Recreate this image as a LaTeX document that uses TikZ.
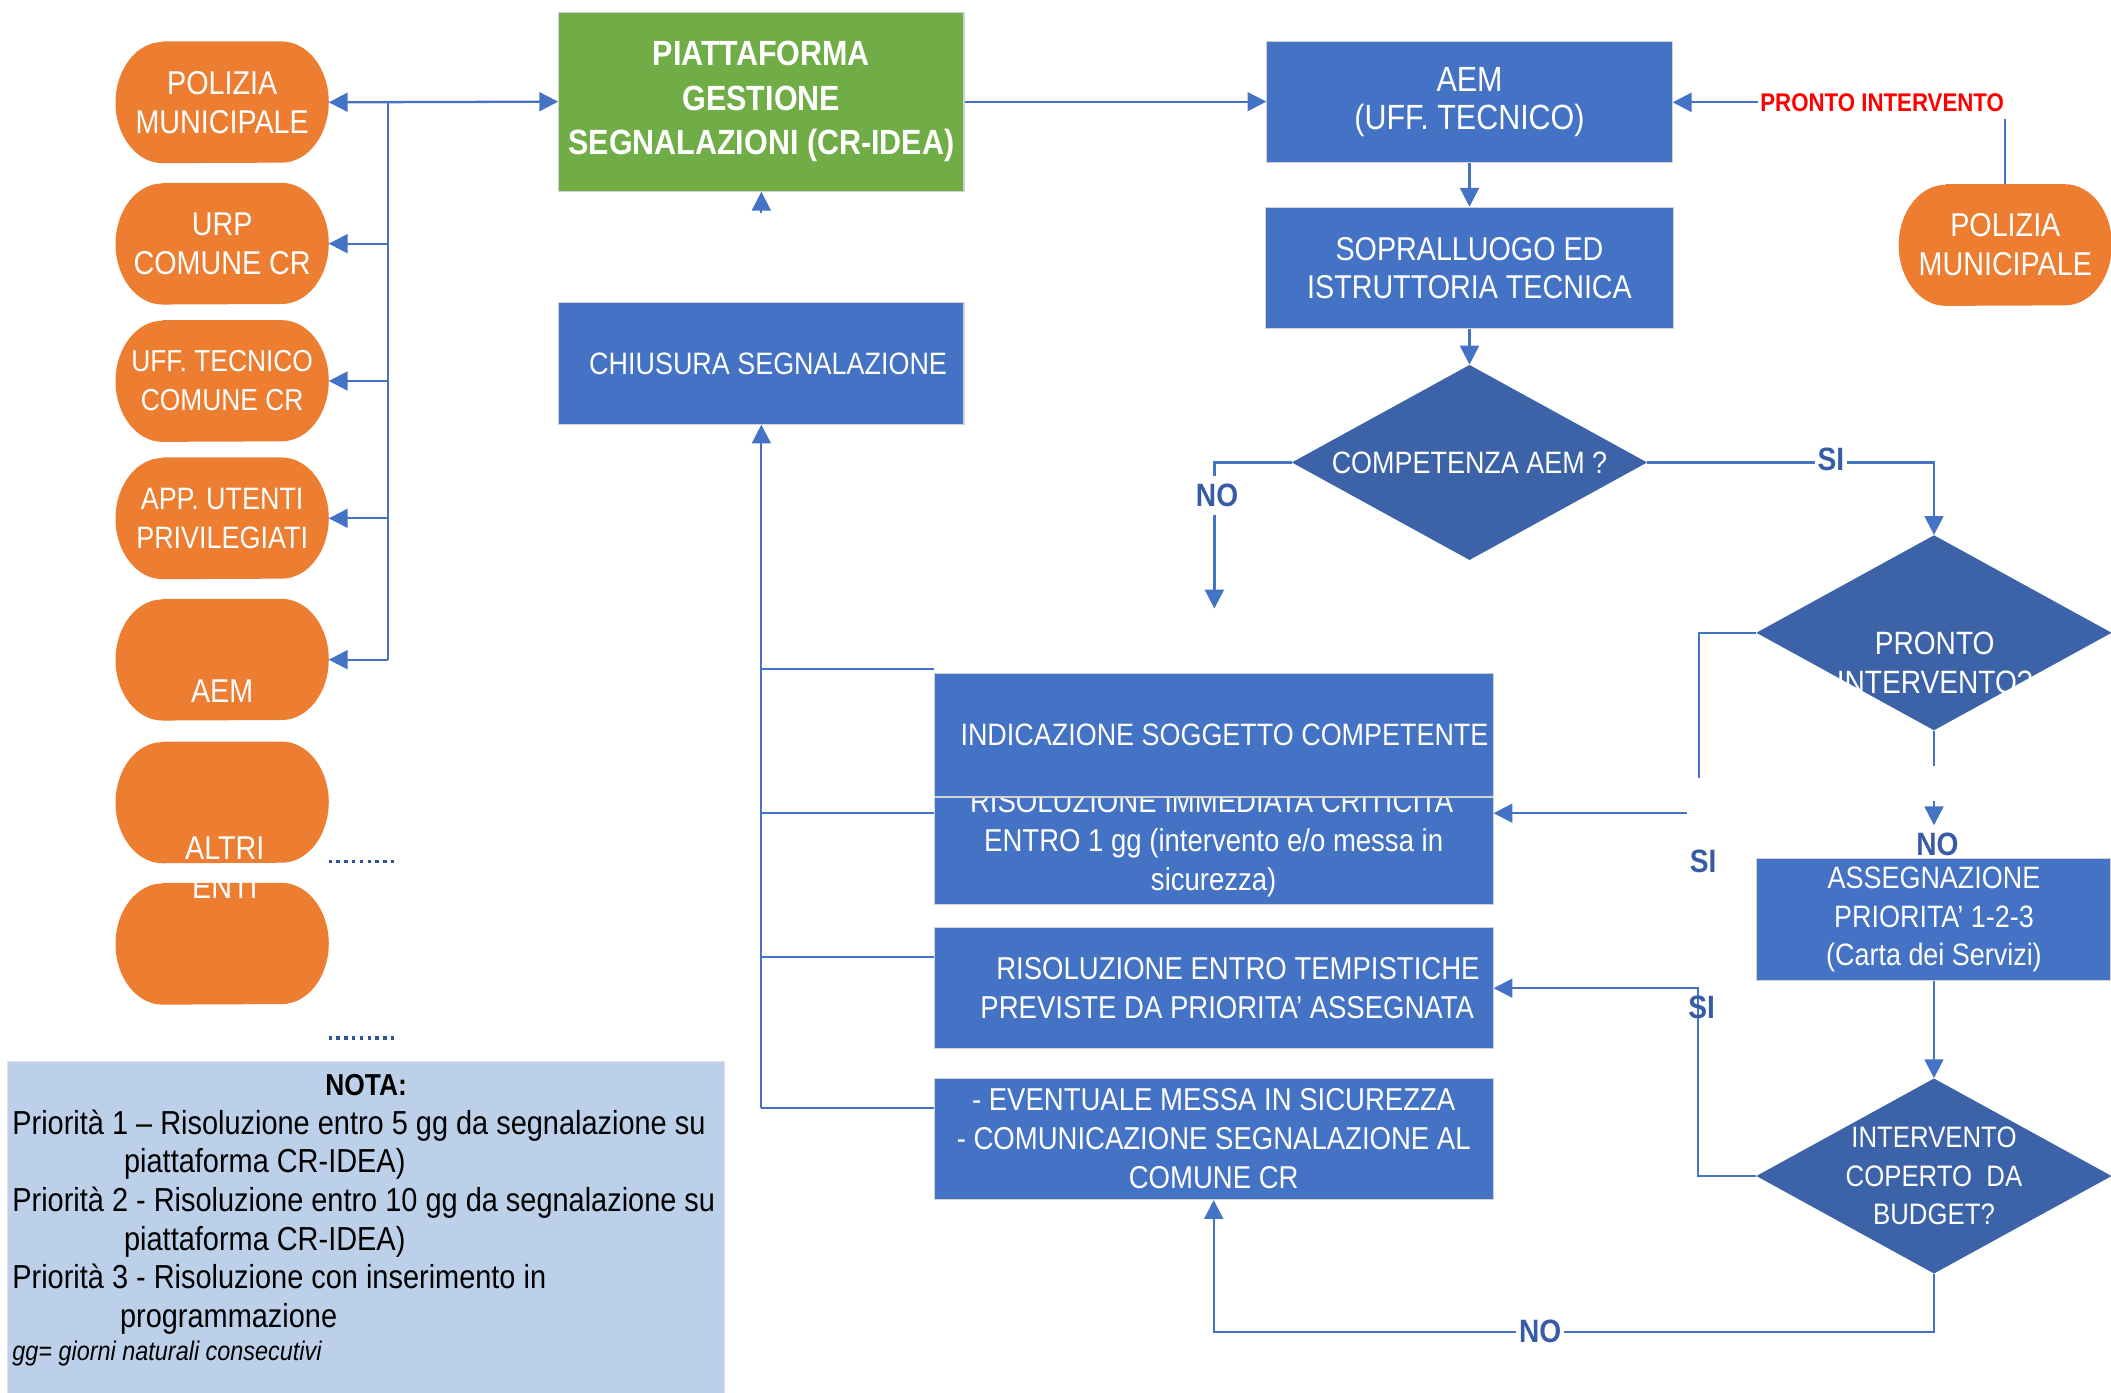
\documentclass[tikz,border=0pt]{standalone}
\usepackage{fontspec}
\setmainfont{Liberation Sans}[FakeStretch=0.87]
\usetikzlibrary{positioning,shapes.geometric,arrows.meta,backgrounds}
\definecolor{boxblue}{RGB}{68,114,196}
\definecolor{dmdblue}{RGB}{60,98,168}
\definecolor{labblue}{RGB}{55,92,165}
\definecolor{dotblue}{RGB}{47,85,151}
\definecolor{pillorange}{RGB}{237,125,49}
\definecolor{platgreen}{RGB}{112,173,71}
\definecolor{notafill}{RGB}{189,208,233}
\definecolor{prontored}{RGB}{255,0,0}
\newcommand{\fsz}[2]{\fontsize{#1}{#2}\selectfont}

\begin{document}
\begin{tikzpicture}[x=1pt,y=1pt,
  every node/.style={inner sep=0pt, text=white, align=center},
  box/.style={rectangle, fill=boxblue, draw=gray!35, line width=0.8pt, minimum width=301, minimum height=90, font=\fsz{24.5}{28.5}},
  widebox/.style={box, minimum width=415, font=\fsz{23.5}{29}},
  platbox/.style={box, fill=platgreen, minimum height=133, font=\bfseries\fsz{26}{33}},
  decision/.style={diamond, fill=dmdblue, shape aspect=1.82, inner sep=-8pt, minimum width=264, minimum height=145, font=\fsz{22}{28.5}},
  pill/.style={rectangle, minimum width=158, minimum height=90, font=\fsz{24.5}{29}},
  pilltext/.style={font=\fsz{24.5}{29}},
  line/.style={draw=boxblue, line width=1.7pt},
  arr/.style={line, -{Triangle[length=14pt,width=14pt]}},
  arrs/.style={line, {Triangle[length=14pt,width=14pt]}-{Triangle[length=14pt,width=14pt]}},
  lab/.style={text=labblue, font=\bfseries\fsz{24}{28}, fill=white, inner xsep=2pt, inner ysep=6pt},
  dots/.style={draw=dotblue, line width=2.6pt, dash pattern=on 2.6pt off 3.2pt}]
  \useasboundingbox (0,0) rectangle (1568,-1034);

  \node[platbox] (plat) at (565.5,-75.5) {PIATTAFORMA\\GESTIONE\\SEGNALAZIONI (CR-IDEA)};
  \node[box, font=\fsz{26}{28.5}] (aem) at (1091.5,-76) {AEM\\(UFF. TECNICO)};
  \node[box, minimum width=303] (sopr) at (1091.5,-199) {SOPRALLUOGO ED\\ISTRUTTORIA TECNICA};
  \node[decision, font=\fsz{23}{28}] (comp) at (1091.5,-343.5) {COMPETENZA AEM ?};
  \node[decision] (pronto) at (1436.5,-470) {};
  \node[pilltext, font=\fsz{24}{29}] (prontotxt) at (1437,-492.5) {PRONTO\\INTERVENTO?};
  \node[box, font=\fsz{23}{28}] (chius) at (565.5,-270) {\hspace*{10pt}CHIUSURA SEGNALAZIONE};
  \node[widebox] (risimm) at (901.5,-627) {RISOLUZIONE IMMEDIATA CRITICITA’\\ENTRO 1 gg (intervento e/o messa in\\sicurezza)};
  \node[widebox, minimum height=92, font=\fsz{23}{28}] (indic) at (901.5,-546) {\hspace*{16pt}INDICAZIONE SOGGETTO COMPETENTE};
  \node[widebox] (tempi) at (901.5,-734) {\hspace*{36pt}RISOLUZIONE ENTRO TEMPISTICHE\\\hspace*{20pt}PREVISTE DA PRIORITA’ ASSEGNATA};
  \node[widebox] (event) at (901.5,-846) {- EVENTUALE MESSA IN SICUREZZA\\- COMUNICAZIONE SEGNALAZIONE AL\\COMUNE CR};
  \node[box, minimum width=263, font=\fsz{23}{28.5}] (asseg) at (1436.5,-683) {ASSEGNAZIONE\\PRIORITA’ 1-2-3\\(Carta dei Servizi)};
  \node[decision] (budget) at (1436.5,-873.5) {INTERVENTO\\COPERTO\ \ DA\\BUDGET?};

  \foreach \n/\y/\t in {pm/76/{POLIZIA\\MUNICIPALE}, urp/181/{URP\\COMUNE CR}, aemp/490/{}, alt1/596/{}, alt2/701/{}}
    \node[pill] (\n) at (165,-\y) {\t};
  \node[pill, font=\fsz{22.5}{29}] (uff) at (165,-283) {UFF. TECNICO\\COMUNE CR};
  \node[pill, font=\fsz{23}{29}] (app) at (165,-385) {APP. UTENTI\\PRIVILEGIATI};
  \node[pill] (pm2) at (1489.5,-182) {POLIZIA\\MUNICIPALE};
  \node[pilltext] (aemtxt) at (165,-513) {AEM};
  \node[pilltext] (alttxt) at (167,-644.5) {ALTRI\\ENTI};
  \begin{scope}[on background layer]
    \foreach \n in {pm,urp,uff,app,aemp,alt1,alt2,pm2}
      \fill[pillorange] ([xshift=35]\n.north west) -- ([xshift=-35]\n.north east)
        arc[start angle=90,end angle=-90,x radius=35,y radius=45] -- ([xshift=35]\n.south west)
        arc[start angle=270,end angle=90,x radius=35,y radius=45] -- cycle;
  \end{scope}

  \coordinate (bus) at (288,-76);
  \draw[arrs] (pm.east) -- (plat.west);
  \draw[line] (bus) -- (bus |- aemp.east);
  \foreach \n in {urp,uff,app,aemp}
    \draw[arr] (bus |- \n.east) -- (\n.east);
  \path (plat.east) edge[arr] (plat.east -| aem.west)
        (aem) edge[arr] (sopr) (sopr) edge[arr] (comp) (asseg) edge[arr] (budget);
  \coordinate (platup) at (565.5,-158);
  \draw[arr] (platup) -- (plat.south);

  \coordinate (fbbot) at (566,-823);
  \draw[arr] (chius.south |- fbbot) -- (chius.south);
  \foreach \y in {497,604,711,823}
    \draw[line] (chius.south |- 0,-\y) -- (indic.west |- 0,-\y);

  \coordinate (noend) at (902,-452);
  \draw[arr] (comp.west) -| (noend);
  \node[lab] (nocomp) at (904,-368) {NO};
  \draw[arr] (comp.east) -| (pronto.north);
  \node[lab] (sicomp) at (1360,-341) {SI};

  \coordinate (sicut) at (1262,-578);
  \coordinate (sifrom) at (1253,-604);
  \draw[line] (pronto.west) -| (sicut);
  \draw[arr] (sifrom) -- (sifrom -| risimm.east);
  \node[lab, fill=none] (sipronto) at (1265,-640) {SI};
  \coordinate (nocut) at (1436.5,-569);
  \coordinate (nofrom) at (1436.5,-595);
  \coordinate (noto) at (1436.5,-613);
  \draw[line] (pronto.south) -- (nocut);
  \draw[arr] (nofrom) -- (noto);
  \node[lab, fill=none] (nopronto) at (1439,-627) {NO};

  \draw[arr] (budget.west) -- ++(-43,0) |- (tempi.east);
  \node[lab, fill=none] (sibudget) at (1264,-748) {SI};
  \draw[arr] (budget.south) -- ++(0,-43) -| (event.south);
  \node[lab] (nobudget) at (1144,-989) {NO};

  \draw[arr] (pm2.north) |- (aem.east);
  \node[lab, text=prontored, font=\bfseries\fsz{19}{22}] (pi) at (1398,-76) {PRONTO INTERVENTO};

  \coordinate (dot1) at (244,-640);
  \coordinate (dot2) at (244,-771);
  \draw[dots] (dot1) -- ++(49,0);
  \draw[dots] (dot2) -- ++(49,0);

  \node[rectangle, fill=notafill, draw=gray!25, line width=0.8pt, minimum width=533, minimum height=252, anchor=north west] (nota) at (5,-788) {};
  \node[text=black, font=\bfseries\fsz{22.5}{27}] (notatitle) at (272,-806) {NOTA:};
  \node[text=black, align=left, anchor=north west, font=\fsz{24.7}{28.7}] (notatext) at (9,-824)
    {Priorità 1 – Risoluzione entro 5 gg da segnalazione su\\\hspace*{83pt}piattaforma CR-IDEA)\\
     Priorità 2 - Risoluzione entro 10 gg da segnalazione su\\\hspace*{83pt}piattaforma CR-IDEA)\\
     Priorità 3 - Risoluzione con inserimento in\\\hspace*{80pt}programmazione};
  \node[text=black, anchor=west, font=\itshape\fsz{20}{24}] (notafoot) at (9,-1005) {gg= giorni naturali consecutivi};
\end{tikzpicture}
\end{document}
